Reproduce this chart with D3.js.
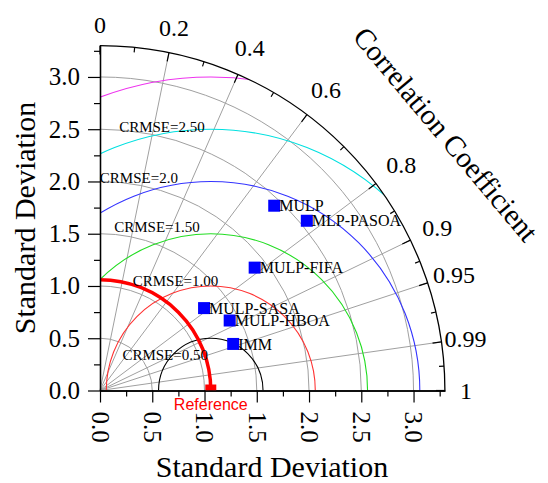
<!DOCTYPE html>
<html>
<head>
<meta charset="utf-8">
<script src="https://cdn.jsdelivr.net/npm/d3@7"></script>
<style>
	body { margin: 0; background: #fff; }
	svg { display: block; }
	text { font-family: "Liberation Serif", "Times New Roman", serif; fill: #000; }
</style>
</head>
<body>
<svg id="chart" width="548" height="483"></svg>
<script>
// values
var modelNames = ["MULP", "MLP-PASOA", "MULP-FIFA", "MULP-SASA", "MULP-HBOA", "IMM"];
var modelStd = [2.43, 2.56, 1.89, 1.27, 1.41, 1.35];
var modelCorr = [0.686, 0.773, 0.783, 0.784, 0.880, 0.944];
var refStd = 1.06;

var stdMax = 3.3;
var stdTicks = [0, 0.5, 1, 1.5, 2, 2.5, 3];
var stdTickLabels = ["0.0", "0.5", "1.0", "1.5", "2.0", "2.5", "3.0"];
var corrTicks = [0, 0.2, 0.4, 0.6, 0.8, 0.9, 0.95, 0.99, 1];
var corrTickLabels = ["0", "0.2", "0.4", "0.6", "0.8", "0.9", "0.95", "0.99", "1"];

var crmseLevels = [0.5, 1, 1.5, 2, 2.5, 3];
var crmseLabels = ["CRMSE=0.50", "CRMSE=1.00", "CRMSE=1.50", "CRMSE=2.0", "CRMSE=2.50", ""];

var svg = d3.select("#chart"),
	ox = 100, oy = 390.5,
	r = d3.scaleLinear().domain([0, stdMax]).range([0, 344.9]),
	R = r(stdMax),
	crmseColour = d3.scaleOrdinal()
		.domain(crmseLevels)
		.range(["#000000", "#ff3333", "#22dd22", "#3333ff", "#00e0e0", "#ee33ee"]);

var g = svg.append("g").attr("transform", "translate(" + ox + "," + oy + ")");

//quarter disc, everything inside the diagram is clipped to it
svg.append("defs").append("clipPath").attr("id", "quarter")
	.append("path")
		.attr("d", "M0,0L0," + (-R) + "A" + R + "," + R + " 0 0 1 " + R + ",0Z");

function ptX(s, c) { return r(s) * c; }
function ptY(s, c) { return -r(s) * Math.sqrt(1 - c * c); }
function quarterArc(rad){
	var p = d3.path();
	p.moveTo(0, -rad);
	p.arc(0, 0, rad, -Math.PI / 2, 0, false);
	return p.toString();
}
function corrAngle(c) { return Math.acos(c); }

//grid: std arcs and correlation rays
g.selectAll(".stdGrid")
	.data(stdTicks.filter(function(d) {return d > 0;}))
	.enter().append("path")
		.attr("class", "stdGrid")
		.attr("d", function(d) {return quarterArc(r(d));})
		.attr("fill", "none")
		.attr("stroke", "#a0a0a0")
		.attr("stroke-width", 1);

g.selectAll(".corrGrid")
	.data(corrTicks.filter(function(d) {return d > 0 && d < 1;}))
	.enter().append("line")
		.attr("class", "corrGrid")
		.attr("x1", 0).attr("y1", 0)
		.attr("x2", function(d) {return ptX(stdMax, d);})
		.attr("y2", function(d) {return ptY(stdMax, d);})
		.attr("stroke", "#a0a0a0")
		.attr("stroke-width", 1);

//centred RMS error circles around the reference
g.append("g")
	.attr("clip-path", "url(#quarter)")
	.selectAll("circle")
	.data(crmseLevels)
	.enter().append("circle")
		.attr("cx", r(refStd))
		.attr("cy", 0)
		.attr("r", function(d) {return r(d);})
		.attr("fill", "none")
		.attr("stroke", function(d) {return crmseColour(d);})
		.attr("stroke-width", 1.1);

//reference std arc
g.append("path")
	.attr("d", quarterArc(r(refStd)))
	.attr("fill", "none")
	.attr("stroke", "#ff0000")
	.attr("stroke-width", 3.5);

//outer arc with inward ticks
g.append("path")
	.attr("d", quarterArc(R))
	.attr("fill", "none")
	.attr("stroke", "#000")
	.attr("stroke-width", 1.3);

var minorCorr = [];
for(var i = 0; i < corrTicks.length - 1; i++)
	minorCorr.push(Math.cos((corrAngle(corrTicks[i]) + corrAngle(corrTicks[i + 1])) / 2));

function arcTicks(values, len, cls){
	g.selectAll("." + cls)
		.data(values)
		.enter().append("line")
			.attr("class", cls)
			.attr("x1", function(d) {return R * d;})
			.attr("y1", function(d) {return -R * Math.sqrt(1 - d * d);})
			.attr("x2", function(d) {return (R - len) * d;})
			.attr("y2", function(d) {return -(R - len) * Math.sqrt(1 - d * d);})
			.attr("stroke", "#000")
			.attr("stroke-width", 1.2);
}
arcTicks(corrTicks, 9, "corrMajor");
arcTicks(minorCorr, 5, "corrMinor");

//labels sit a little closer at both ends of the arc
function corrLabelRadius(c) { return 366 + 11 * Math.sin(2 * corrAngle(c)); }
g.selectAll(".corrLabel")
	.data(corrTicks)
	.enter().append("text")
		.attr("class", "corrLabel")
		.attr("x", function(d) {return corrLabelRadius(d) * d;})
		.attr("y", function(d) {return -corrLabelRadius(d) * Math.sqrt(1 - d * d);})
		.attr("dy", "0.35em")
		.attr("text-anchor", "middle")
		.attr("font-size", 24)
		.text(function(d, i) {return corrTickLabels[i];});

//std axes
var yScale = d3.scaleLinear().domain([0, stdMax]).range([0, -R]),
	xScale = d3.scaleLinear().domain([0, stdMax]).range([0, R]),
	minorStd = d3.range(0.25, stdMax, 0.5);

function styleAxis(sel){
	sel.select(".domain").attr("stroke", "#000").attr("stroke-width", 1.3);
	sel.selectAll(".tick line").attr("stroke", "#000").attr("stroke-width", 1.2);
	sel.selectAll("text").style("font-family", "'Liberation Serif', serif");
}

g.append("g")
	.call(d3.axisLeft(yScale).tickValues(minorStd).tickSize(6).tickSizeOuter(0).tickFormat(""))
	.call(styleAxis);
g.append("g")
	.call(d3.axisLeft(yScale).tickValues(stdTicks).tickSize(12).tickSizeOuter(0).tickPadding(8)
		.tickFormat(function(d, i) {return stdTickLabels[i];}))
	.call(styleAxis)
	.call(function(a){
		a.selectAll("text").attr("fill", "#000").style("font-size", "25px");
	});

g.append("g")
	.call(d3.axisBottom(xScale).tickValues(minorStd).tickSize(6).tickSizeOuter(0).tickFormat(""))
	.call(styleAxis);
g.append("g")
	.call(d3.axisBottom(xScale).tickValues(stdTicks).tickSize(12).tickSizeOuter(0)
		.tickFormat(function(d, i) {return stdTickLabels[i];}))
	.call(styleAxis)
	.call(function(a){
		a.selectAll("text")
			.attr("x", 0).attr("y", 0)
			.attr("dy", "0.35em")
			.attr("text-anchor", "start")
			.attr("transform", "translate(0,21) rotate(90)")
			.attr("fill", "#000")
			.style("font-size", "25px");
	});

//CRMSE labels: angle round the reference (deg) and gap outside the circle
var crmsePlace = {0.5: [142, 0.054], 1: [107.8, 0.104], 1.5: [108.2, 0.147], 2: [108.7, 0.146], 2.5: [100.5, 0.064]};
g.selectAll(".crmseLabel")
	.data(crmseLevels.filter(function(d, i) {return crmseLabels[i] !== "";}))
	.enter().append("text")
		.attr("class", "crmseLabel")
		.attr("x", function(d){
			var p = crmsePlace[d];
			return r(refStd + (d + p[1]) * Math.cos(p[0] * Math.PI / 180));
		})
		.attr("y", function(d){
			var p = crmsePlace[d];
			return -r((d + p[1]) * Math.sin(p[0] * Math.PI / 180));
		})
		.attr("dy", "0.35em")
		.attr("text-anchor", "middle")
		.attr("font-size", 15)
		.text(function(d) {return crmseLabels[crmseLevels.indexOf(d)];});

//reference point
g.append("rect")
	.attr("clip-path", "url(#quarter)")
	.attr("x", r(refStd) - 5.5)
	.attr("y", -6)
	.attr("width", 11)
	.attr("height", 12)
	.attr("fill", "#ff0000");
g.append("text")
	.attr("x", r(refStd))
	.attr("y", 19)
	.attr("text-anchor", "middle")
	.style("font-family", "'Liberation Sans', Arial, sans-serif")
	.attr("font-size", 16)
	.style("fill", "#ff0000")
	.text("Reference");

//model points
var pts = g.selectAll(".model")
	.data(modelNames)
	.enter().append("g")
		.attr("class", "model")
		.attr("transform", function(d, i){
			return "translate(" + ptX(modelStd[i], modelCorr[i]) + "," + ptY(modelStd[i], modelCorr[i]) + ")";
		});
pts.append("rect")
	.attr("x", -6).attr("y", -6)
	.attr("width", 12).attr("height", 12)
	.attr("fill", "#0000ff");
pts.append("text")
	.attr("x", 5)
	.attr("dy", "0.35em")
	.attr("font-size", 16)
	.text(function(d) {return d;});

//titles
svg.append("text")
	.attr("x", 272).attr("y", 477)
	.attr("text-anchor", "middle")
	.attr("font-size", 30)
	.text("Standard Deviation");
svg.append("text")
	.attr("transform", "translate(35,218) rotate(-90)")
	.attr("text-anchor", "middle")
	.attr("font-size", 30)
	.text("Standard Deviation");
svg.append("text")
	.attr("transform", "translate(446,134) rotate(50)")
	.attr("dy", "0.35em")
	.attr("text-anchor", "middle")
	.attr("font-size", 29)
	.text("Correlation Coefficient");
</script>
</body>
</html>
